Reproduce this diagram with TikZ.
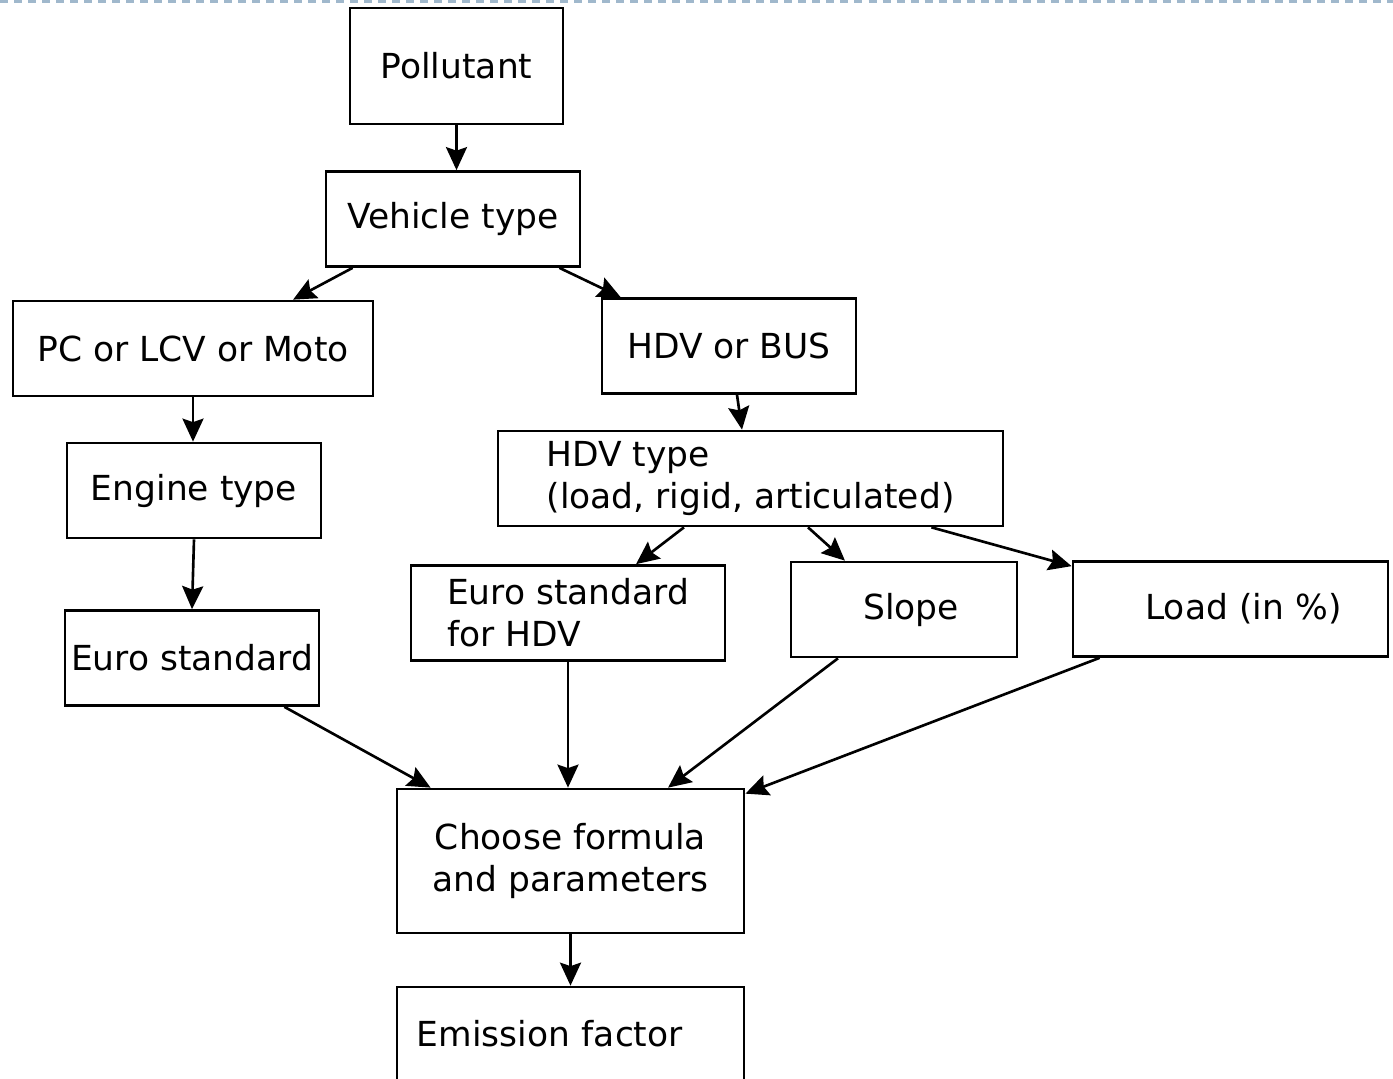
\documentclass[tikz,border=0pt]{standalone}
\usepackage{fontspec}
\setmainfont{DejaVu Sans}
\usetikzlibrary{arrows.meta}
\definecolor{pageedge}{RGB}{160,184,204}

\tikzset{
  box/.style={draw, line width=0.75pt, minimum height=9.5mm, align=center, inner sep=0pt},
  arr/.style={-{Stealth[length=2.3mm,width=2.1mm,inset=0.35mm]}, line width=0.75pt}
}

\begin{document}
\begin{tikzpicture}[x=0.01cm, y=-0.01cm, font=\fontsize{9.8}{12}\selectfont]
  \useasboundingbox (0,0) rectangle (1393,1079);
  \draw[pageedge, line width=1pt, dash pattern=on 0.8mm off 0.6mm] (0,1.5) -- (1393,1.5);

  % boxes
  \node[box, minimum width=21.3mm, minimum height=11.6mm] (poll) at (456.5,66) {Pollutant};
  \node[box, minimum width=25.4mm] (veh) at (453,219) {Vehicle type};
  \node[box, minimum width=36mm] (pc) at (193,348.5) {PC or LCV or Moto};
  \node[box, minimum width=25.4mm] (hdv) at (729,346) {HDV or BUS};
  \node[box, minimum width=25.4mm] (eng) at (194,490.5) {Engine type};
  \node[box, minimum width=50.5mm, align=left] (hdvt) at (750.5,478.5) {HDV type\\(load, rigid, articulated)};
  \node[box, minimum width=25.4mm] (euro) at (192,658) {Euro standard};
  \node[box, minimum width=31.4mm, align=left] (eurohdv) at (568,613) {Euro standard\\for HDV};
  \node[box, align=right, inner xsep=5.8mm, text width=11mm] (slope) at (904,609.5) {Slope};
  \node[box, align=right, inner xsep=4.6mm, text width=22.3mm] (load) at (1230.5,609) {Load (in \%)};
  \node[box, minimum width=34.7mm, minimum height=14.4mm] (choose) at (570.5,861) {Choose formula\\and parameters};
  \node[box, align=left, inner xsep=2mm, text width=30.7mm, minimum height=9.4mm] (emis) at (570.5,1034) {Emission factor};

  % connectors
  \draw[arr] (poll.south) -- (poll.south |- veh.north);
  \draw[arr] ([xshift=2.8mm]veh.south west) -- ([xshift=10mm]pc.north);
  \draw[arr] ([xshift=-2.2mm]veh.south east) -- ([xshift=2mm]hdv.north west);
  \draw[arr] (pc.south) -- (pc.south |- eng.north);
  \draw[arr] ([xshift=0.8mm]hdv.south) -- ([xshift=-0.85mm]hdvt.north);
  \draw[arr] (eng.south) -- (euro.north);
  \draw[arr] ([xshift=-6.65mm]hdvt.south) -- ([xshift=6.8mm]eurohdv.north);
  \draw[arr] ([xshift=5.75mm]hdvt.south) -- ([xshift=-5.9mm]slope.north);
  \draw[arr] ([xshift=-7.3mm]hdvt.south east) -- ([yshift=-0.6mm]load.north west);
  \draw[arr] ([xshift=-3.6mm]euro.south east) -- ([xshift=3.5mm]choose.north west);
  \draw[arr] (eurohdv.south) -- (eurohdv.south |- choose.north);
  \draw[arr] ([xshift=-6.6mm]slope.south) -- ([xshift=9.75mm]choose.north);
  \draw[arr] ([xshift=2.8mm]load.south west) -- ([yshift=-0.6mm]choose.north east);
  \draw[arr] (choose.south) -- (emis.north);
\end{tikzpicture}
\end{document}
